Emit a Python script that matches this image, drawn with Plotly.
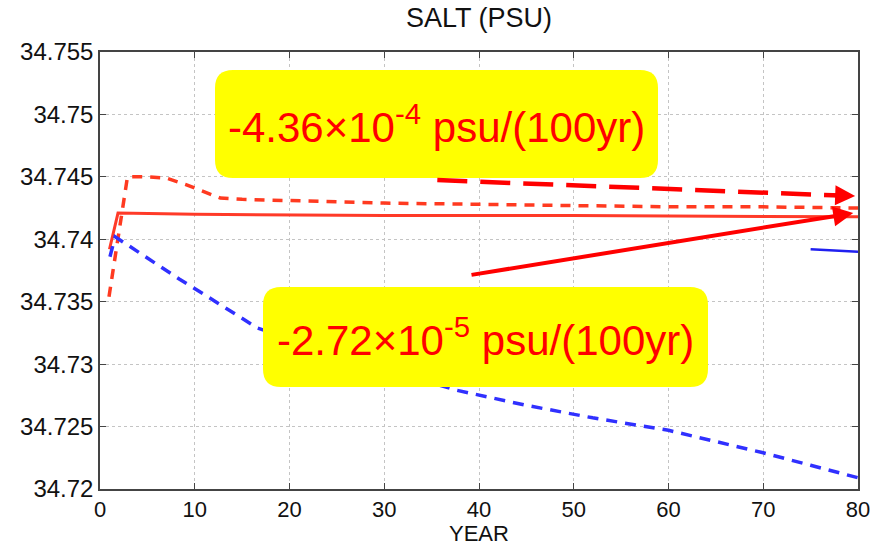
import plotly.graph_objects as go

# Salinity time series (years, PSU)
dash_red_years = [0.95, 2.9, 5, 7, 9, 11, 12.7, 15, 20, 30, 40, 50, 60, 70, 80]
dash_red_salt = [34.7354, 34.7450, 34.7450, 34.7449, 34.7444, 34.7438, 34.7433, 34.7432,
                 34.7431, 34.7429, 34.7428, 34.7427, 34.7426, 34.7426, 34.7425]

solid_red_years = [1.0, 1.9, 10, 30, 50, 80]
solid_red_salt = [34.7392, 34.7421, 34.7420, 34.7419, 34.7419, 34.7418]

dash_blue_years = [1.05, 1.6, 5, 8.4, 12, 16.6, 22, 30, 37.7, 45, 52, 60, 65, 70, 75, 80]
dash_blue_salt = [34.7386, 34.7402, 34.7385, 34.7368, 34.7351, 34.7329, 34.7315, 34.7296,
                  34.7279, 34.7267, 34.7257, 34.7247, 34.7238, 34.7229, 34.7219, 34.7209]

solid_blue_years = [75, 80]
solid_blue_salt = [34.7392, 34.7390]

# Trend annotations: label text and arrow (start -> tip) in data units
trend_labels = ["-4.36×10<sup>-4</sup> psu/(100yr)", "-2.72×10<sup>-5</sup> psu/(100yr)"]
trend_arrow_dashed = [(35.6, 34.74474), (79.7, 34.74346)]
trend_arrow_solid = [(39.05, 34.73713), (79.5, 34.7421)]

x_ticks = [0, 10, 20, 30, 40, 50, 60, 70, 80]
y_ticks = [34.72, 34.725, 34.73, 34.735, 34.74, 34.745, 34.75, 34.755]
y_tick_text = ["34.72", "34.725", "34.73", "34.735", "34.74", "34.745", "34.75", "34.755"]

FONT = "Liberation Sans, Arial, Helvetica, sans-serif"
W, H = 885, 547
ML, MR, MT, MB = 100, 27, 52, 58
PW, PH = W - ML - MR, H - MT - MB

fig = go.Figure()
fig.add_trace(go.Scatter(x=dash_red_years, y=dash_red_salt, mode="lines",
                         line=dict(color="#ff3a20", width=3.5, dash="10px,8px"), hoverinfo="skip"))
fig.add_trace(go.Scatter(x=solid_red_years, y=solid_red_salt, mode="lines",
                         line=dict(color="#ff3a28", width=3), hoverinfo="skip"))
fig.add_trace(go.Scatter(x=dash_blue_years, y=dash_blue_salt, mode="lines",
                         line=dict(color="#3030ff", width=3.5, dash="11px,8px"), hoverinfo="skip"))
fig.add_trace(go.Scatter(x=solid_blue_years, y=solid_blue_salt, mode="lines",
                         line=dict(color="#2020f0", width=2.5), hoverinfo="skip"))


def px_to_paper(px, py):
    return (px - ML) / PW, (MT + PH - py) / PH


def rounded_box(px0, py0, px1, py1, r):
    """SVG path of a rounded rectangle given in pixel corners, returned in paper units."""
    rx, ry = r / PW, r / PH
    x0, y1 = px_to_paper(px0, py0)
    x1, y0 = px_to_paper(px1, py1)
    return (f"M{x0 + rx},{y1} L{x1 - rx},{y1} Q{x1},{y1} {x1},{y1 - ry} "
            f"L{x1},{y0 + ry} Q{x1},{y0} {x1 - rx},{y0} L{x0 + rx},{y0} "
            f"Q{x0},{y0} {x0},{y0 + ry} L{x0},{y1 - ry} Q{x0},{y1} {x0 + rx},{y1} Z")


boxes = [(215, 70, 658, 178), (263, 287, 708, 387)]
for (bx0, by0, bx1, by1), label in zip(boxes, trend_labels):
    fig.add_shape(type="path", xref="paper", yref="paper", path=rounded_box(bx0, by0, bx1, by1, 18),
                  fillcolor="#ffff00", line=dict(width=0), layer="above")
    cx, cy = px_to_paper((bx0 + bx1) / 2, (by0 + by1) / 2)
    fig.add_annotation(x=cx, y=cy, xref="paper", yref="paper", text=label, showarrow=False,
                       font=dict(family=FONT, size=42, color="#ff0000"),
                       xanchor="center", yanchor="middle")

# Dashed trend arrow: dashed shaft plus an arrowhead at the tip
(dx0, dy0), (dx1, dy1) = trend_arrow_dashed
fig.add_shape(type="line", x0=dx0, y0=dy0, x1=dx1 - 1.5, y1=dy1 + 0.00004,
              line=dict(color="#ff0000", width=4.5, dash="30px,13px"), layer="above")
fig.add_annotation(x=dx1, y=dy1, ax=-22, ay=-0.8, text="", showarrow=True,
                   arrowhead=2, arrowsize=1, arrowwidth=4, arrowcolor="#ff0000")

# Solid trend arrow
(sx0, sy0), (sx1, sy1) = trend_arrow_solid
fig.add_annotation(x=sx1, y=sy1, ax=sx0, ay=sy0, axref="x", ayref="y", text="", showarrow=True,
                   arrowhead=2, arrowsize=1, arrowwidth=4, arrowcolor="#ff0000")

fig.add_annotation(x=0.5, y=-(547 - (MT + PH)) / PH, xref="paper", yref="paper", text="YEAR",
                   showarrow=False, font=dict(family=FONT, size=22, color="#111"),
                   xanchor="center", yanchor="bottom", borderpad=0)

axis_common = dict(showline=True, linecolor="#444", linewidth=1.5, mirror="ticks",
                   ticks="inside", ticklen=6, tickcolor="#444", tickwidth=1.2,
                   showgrid=True, gridcolor="#c4c4c4", gridwidth=1, griddash="dot",
                   zeroline=False)

fig.update_xaxes(range=[0, 80], tickvals=x_ticks,
                 tickfont=dict(family=FONT, size=22, color="#111"), **axis_common)
fig.update_yaxes(range=[34.72, 34.755], tickvals=y_ticks, ticktext=y_tick_text,
                 tickfont=dict(family=FONT, size=24, color="#111"), **axis_common)

fig.update_layout(
    width=W, height=H,
    margin=dict(l=ML, r=MR, t=MT, b=MB),
    paper_bgcolor="white", plot_bgcolor="white",
    showlegend=False,
    title=dict(text="SALT (PSU)", x=0.5, xref="paper", xanchor="center",
               y=1 - 18 / H, yref="container", yanchor="middle",
               font=dict(family=FONT, size=27, color="#111")),
)

fig.write_html("out.html")
